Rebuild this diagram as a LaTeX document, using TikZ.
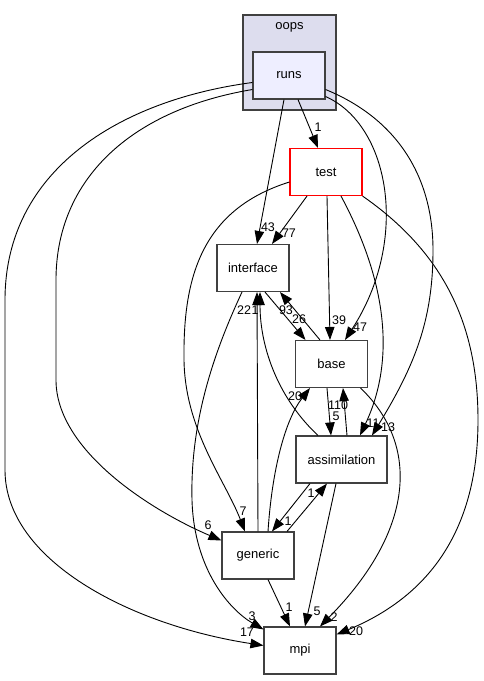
\documentclass[tikz,border=0pt]{standalone}
\usepackage{fontspec}
\setmainfont{Liberation Sans}
\usetikzlibrary{arrows.meta}
\definecolor{clusterfill}{HTML}{DDDDEE}
\definecolor{runsfill}{HTML}{EEEEFF}
\definecolor{boxline}{HTML}{404040}
\begin{document}
\begin{tikzpicture}[x=1pt, y=-1pt]
    \tikzstyle{dir}=[draw=boxline, line width=1.1pt, fill=white, minimum height=47pt, minimum width=72pt, inner sep=2pt, font=\fontsize{13}{15}\selectfont];
    \tikzstyle{cluster}=[draw=boxline, line width=1.1pt, fill=clusterfill, minimum height=95pt, minimum width=93pt];
    \tikzstyle{dep}=[line width=0.9pt, -{Triangle[length=13pt, width=9.5pt]}];
    \tikzstyle{lbl}=[inner sep=0pt, font=\fontsize{12.5}{14}\selectfont];
    \useasboundingbox (0, 0) rectangle (484, 681);

	\node (oops) at (289.5, 62.5) [cluster] {};
	\node (oopsname) at (289.5, 27.5) [lbl, font=\fontsize{13}{15}\selectfont] {oops};
	\node (runs) at (289, 75.5) [dir, fill=runsfill] {runs};
	\node (test) at (326, 172) [dir, draw=red] {test};
	\node (interface) at (253, 268) [dir] {interface};
	\node (base) at (331.5, 364) [dir] {base};
	\node (assimilation) at (341.5, 459.5) [dir, minimum width=91pt] {assimilation};
	\node (generic) at (258, 555.5) [dir] {generic};
	\node (mpi) at (300, 650.5) [dir] {mpi};

	\draw[dep] ([xshift=9pt]runs.south) -- ([xshift=-8pt]test.north) node[lbl] at (318, 127) {1};
	\draw[dep] ([xshift=-5pt]runs.south) -- ([xshift=4pt]interface.north) node[lbl] at (268, 227) {43};
	\draw[dep] ([yshift=-21pt]runs.east) .. controls (390, 125) and (410, 240) .. ([xshift=13.5pt]base.north) node[lbl] at (360, 327) {47};
	\draw[dep] ([yshift=-14pt]runs.east) .. controls (400, 120) and (433, 180) .. (433, 250) .. controls (433, 320) and (415, 365) .. ([xshift=30.5pt]assimilation.north) node[lbl] at (388, 427) {13};
	\draw[dep] ([yshift=-14pt]runs.west) .. controls (130, 110) and (56, 180) .. (56, 280) -- (56, 380) .. controls (56, 450) and (150, 510) .. ([yshift=15pt]generic.west) node[lbl] at (208, 525) {6};
	\draw[dep] ([yshift=-7pt]runs.west) .. controls (120, 100) and (5, 170) .. (5, 300) -- (5, 470) .. controls (5, 560) and (130, 625) .. ([yshift=5pt]mpi.west) node[lbl] at (247, 632) {17};

	\draw[dep] ([xshift=-19pt]test.south) -- ([xshift=19pt]interface.north) node[lbl] at (289, 233) {77};
	\draw[dep] ([xshift=1pt]test.south) -- ([xshift=-1.5pt]base.north) node[lbl] at (339, 320) {39};
	\draw[dep] ([xshift=15pt]test.south) .. controls (370, 250) and (405, 340) .. ([xshift=18.5pt]assimilation.north) node[lbl] at (373, 423) {11};
	\draw[dep] ([yshift=-10pt]test.west) .. controls (200, 210) and (183, 280) .. (184, 360) .. controls (185, 430) and (225, 480) .. ([xshift=-13pt]generic.north) node[lbl] at (243, 511) {7};
	\draw[dep] (test.south east) .. controls (440, 250) and (478, 320) .. (478, 420) .. controls (478, 540) and (420, 600) .. ([yshift=16pt]mpi.east) node[lbl] at (356, 631) {20};

	\draw[dep] ([xshift=12pt]interface.south) -- ([xshift=-26pt]base.north) node[lbl] at (299, 319) {26};
	\draw[dep] ([xshift=-11pt]interface.south) .. controls (215, 350) and (190, 420) .. (192, 500) .. controls (194, 570) and (230, 610) .. ([yshift=-3pt]mpi.north west) node[lbl] at (252, 616) {3};

	\draw[dep] ([xshift=-11.5pt]base.north) -- ([xshift=27pt]interface.south) node[lbl] at (286, 310) {93};
	\draw[dep] ([xshift=-4.5pt]base.south) -- ([xshift=-10.5pt]assimilation.north) node[lbl] at (336, 416) {5};
	\draw[dep] ([xshift=-7.5pt]base.south east) .. controls (420, 445) and (415, 530) .. ([xshift=20pt]mpi.north) node[lbl] at (334, 617) {2};

	\draw[dep] ([xshift=5.5pt]assimilation.north) -- ([xshift=11.5pt]base.south) node[lbl] at (338, 405) {110};
	\draw[dep] ([xshift=-23.5pt]assimilation.north) .. controls (280, 400) and (260, 350) .. ([xshift=7pt]interface.south) node[lbl] at (255, 310) {1};
	\draw[dep] ([xshift=-31.5pt]assimilation.south) -- ([xshift=14pt]generic.north) node[lbl] at (288, 521) {1};
	\draw[dep] ([xshift=-5.5pt]assimilation.south) -- ([xshift=5pt]mpi.north) node[lbl] at (317, 611) {5};

	\draw[dep] (generic.north) -- ([xshift=4pt]interface.south) node[lbl] at (244, 310) {22};
	\draw[dep] ([xshift=10pt]generic.north) .. controls (272, 470) and (285, 420) .. ([xshift=-21.5pt]base.south) node[lbl] at (295, 396) {20};
	\draw[dep] ([xshift=29pt]generic.north) -- ([xshift=-14.5pt]assimilation.south) node[lbl] at (311, 493) {1};
	\draw[dep] ([xshift=10pt]generic.south) -- ([xshift=-10pt]mpi.north) node[lbl] at (289, 607) {1};
\end{tikzpicture}
\end{document}
